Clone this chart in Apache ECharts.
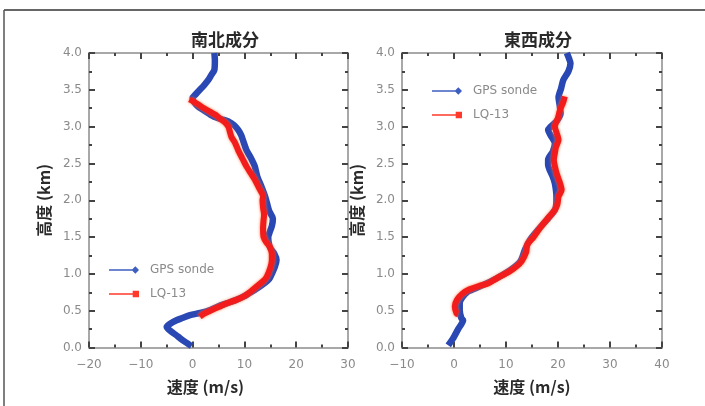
<!DOCTYPE html>
<html><head><meta charset="utf-8">
<script src="https://cdn.jsdelivr.net/npm/echarts@6/dist/echarts.min.js"></script>
<style>html,body{margin:0;padding:0;background:#fff}#c{width:705px;height:406px}</style>
</head><body><div id="c"></div>
<script>
// ---- data: [speed (m/s), height (km)] ----
const titles = ['南北成分', '東西成分'];
const seriesNames = ['GPS sonde', 'LQ-13'];
const xRanges = [[-20, 30], [-10, 40]];
const yRange = [0, 4];

const nsGps = [[4.2,4.0],[4.3,3.9],[4.2,3.77],[3.6,3.7],[3.0,3.63],[2.2,3.56],[1.4,3.5],[0.6,3.44],[0.0,3.39],[0.3,3.33],[1.1,3.27],[2.2,3.22],[4.0,3.14],[5.6,3.1],[6.9,3.07],[8.0,3.02],[8.8,2.955],[9.4,2.88],[9.8,2.8],[10.4,2.68],[11.2,2.58],[12.0,2.46],[12.5,2.32],[13.2,2.2],[14.0,2.05],[14.4,1.95],[14.8,1.85],[15.5,1.75],[15.3,1.65],[14.8,1.55],[14.6,1.5],[14.7,1.42],[15.0,1.35],[15.8,1.27],[16.2,1.19],[15.9,1.1],[15.3,1.0],[14.8,0.93],[13.8,0.87],[12.4,0.8],[11.0,0.74],[9.8,0.69],[8.2,0.64],[6.6,0.6],[5.0,0.56],[3.4,0.51],[1.5,0.47],[-0.5,0.44],[-2.0,0.4],[-3.1,0.37],[-4.4,0.32],[-5.0,0.28],[-4.2,0.22],[-3.2,0.17],[-2.4,0.125],[-1.3,0.07],[-0.2,0.02]];
const nsLq = [[-0.6,3.37],[0.2,3.34],[1.1,3.3],[2.2,3.25],[3.4,3.2],[4.4,3.16],[5.3,3.11],[6.2,3.06],[6.9,3.0],[7.2,2.93],[7.5,2.86],[8.2,2.78],[8.8,2.68],[9.6,2.57],[10.4,2.46],[11.2,2.37],[12.0,2.28],[12.8,2.17],[13.6,2.05],[13.5,2.0],[13.6,1.9],[13.8,1.8],[13.7,1.73],[13.6,1.62],[13.7,1.5],[14.3,1.42],[14.9,1.37],[15.3,1.27],[15.3,1.19],[15.0,1.08],[14.3,0.96],[13.6,0.9],[12.4,0.83],[11.2,0.76],[9.8,0.69],[8.2,0.64],[6.6,0.6],[5.0,0.55],[3.4,0.5],[2.2,0.46],[1.4,0.42]];
const ewGps = [[21.7,4.0],[22.1,3.93],[22.4,3.86],[22.0,3.75],[21.0,3.63],[20.6,3.52],[20.1,3.4],[20.3,3.3],[20.5,3.18],[19.8,3.08],[18.6,3.0],[18.1,2.955],[18.6,2.88],[19.4,2.77],[19.0,2.66],[18.1,2.55],[18.1,2.48],[18.4,2.41],[19.0,2.32],[19.4,2.23],[19.7,2.05],[19.7,2.0],[19.4,1.87],[17.8,1.73],[16.2,1.6],[14.6,1.46],[13.6,1.32],[13.0,1.2],[12.4,1.14],[10.8,1.05],[8.2,0.94],[5.0,0.83],[2.7,0.76],[1.6,0.68],[1.1,0.6],[1.1,0.51],[1.4,0.4],[1.75,0.37],[0.8,0.25],[-0.2,0.12],[-0.8,0.06],[-1.1,0.03]];
const ewLq = [[21.3,3.41],[21.0,3.33],[20.4,3.23],[20.0,3.12],[19.4,3.0],[19.8,2.9],[20.1,2.82],[19.6,2.72],[19.4,2.64],[19.2,2.55],[19.4,2.46],[19.8,2.35],[20.4,2.23],[20.7,2.14],[20.1,2.05],[19.9,1.95],[19.4,1.87],[18.0,1.75],[16.5,1.62],[15.3,1.5],[14.1,1.4],[13.9,1.3],[13.0,1.17],[12.0,1.1],[10.6,1.03],[8.2,0.94],[6.5,0.87],[5.0,0.84],[3.0,0.79],[1.6,0.73],[0.6,0.65],[0.15,0.56],[0.5,0.46],[0.8,0.45]];

// ---- styling ----
const BLUE = '#2a48b4', RED = '#f21c1c';
const LABEL_COLOR = '#8a8a8a', AXIS_COLOR = '#a8a8a8', TICK_COLOR = '#444';
const FONT = 'DejaVu Sans';
const grids = [
  {left: 89, right: 357, top: 53, bottom: 58.5},
  {left: 402, right: 43, top: 53, bottom: 58.5}
];
const fmtX = v => (v < 0 ? '\u2212' + Math.abs(v) : String(v));
const fmtY = v => v.toFixed(1);

function xAxisFor(g, pos) {
  const main = pos === 'bottom';
  return {
    type: 'value', gridIndex: g, position: pos,
    min: xRanges[g][0], max: xRanges[g][1], interval: 10,
    axisLine: {show: true, onZero: false, lineStyle: {color: AXIS_COLOR, width: 2}},
    axisTick: {show: true, inside: true, length: 6, lineStyle: {color: TICK_COLOR, width: 2}},
    minorTick: {show: true, splitNumber: 2, length: 3, lineStyle: {color: TICK_COLOR, width: 2}},
    splitLine: {show: false},
    axisLabel: {show: main, formatter: fmtX, color: LABEL_COLOR, fontFamily: FONT, fontSize: 12, margin: 11},
    name: main ? '速度 (m/s)' : '', nameLocation: 'middle', nameGap: 31,
    nameTextStyle: {fontFamily: 'Noto Sans CJK JP', fontWeight: 'bold', fontSize: 16, color: '#2a2a2a',
      padding: g === 0 ? [0, 26, 0, 0] : [0, 0, 0, 0]}
  };
}
function yAxisFor(g, pos) {
  const main = pos === 'left';
  return {
    type: 'value', gridIndex: g, position: pos,
    min: yRange[0], max: yRange[1], interval: 0.5,
    axisLine: {show: true, onZero: false, lineStyle: {color: AXIS_COLOR, width: 2}},
    axisTick: {show: true, inside: true, length: 6, lineStyle: {color: TICK_COLOR, width: 2}},
    minorTick: {show: true, splitNumber: 2, length: 3, lineStyle: {color: TICK_COLOR, width: 2}},
    splitLine: {show: false},
    axisLabel: {show: main, formatter: fmtY, color: LABEL_COLOR, fontFamily: FONT, fontSize: 12, margin: 7},
    name: main ? '高度 (km)' : '', nameLocation: 'middle', nameGap: 37, nameRotate: 90,
    nameTextStyle: {fontFamily: 'Noto Sans CJK JP', fontWeight: 'bold', fontSize: 16, color: '#2a2a2a'}
  };
}

const gpsIcon = 'path://M0,4.2 L24,4.2 L24,5.8 L0,5.8 Z M25,1.5 L28.5,5 L25,8.5 L21.5,5 Z';
const lqIcon = 'path://M0,4.2 L23,4.2 L23,5.8 L0,5.8 Z M22.5,2 L28.5,2 L28.5,8 L22.5,8 Z';

function lineSeries(name, data, g, color, glow) {
  return {
    type: 'line', name: name, data: data, xAxisIndex: g, yAxisIndex: g,
    symbol: 'none', smooth: 0.25, z: glow ? 3 : 2,
    lineStyle: glow
      ? {color: color, width: 6, shadowBlur: 3, shadowColor: 'rgba(255,110,50,0.9)'}
      : {color: color, width: 6.5},
    itemStyle: {color: color},
    animation: false
  };
}

const option = {
  backgroundColor: '#fff',
  animation: false,
  title: [
    {text: titles[0], left: 220, top: 26, textAlign: 'center',
     textStyle: {fontFamily: 'Noto Sans CJK JP', fontWeight: 'bold', fontSize: 17, color: '#2a2a2a'}},
    {text: titles[1], left: 533, top: 26, textAlign: 'center',
     textStyle: {fontFamily: 'Noto Sans CJK JP', fontWeight: 'bold', fontSize: 17, color: '#2a2a2a'}}
  ],
  grid: grids,
  xAxis: [xAxisFor(0, 'bottom'), xAxisFor(1, 'bottom'), xAxisFor(0, 'top'), xAxisFor(1, 'top')],
  yAxis: [yAxisFor(0, 'left'), yAxisFor(1, 'left'), yAxisFor(0, 'right'), yAxisFor(1, 'right')],
  legend: [
    {left: 104, top: 259, orient: 'vertical', itemGap: 12, itemWidth: 30, itemHeight: 10,
     textStyle: {color: LABEL_COLOR, fontFamily: FONT, fontSize: 12, padding: [0, 0, 0, 6]},
     data: [{name: seriesNames[0], icon: gpsIcon, itemStyle: {color: '#3f5fc0'}},
            {name: seriesNames[1], icon: lqIcon, itemStyle: {color: '#ff3a2a'}}]},
    {left: 427, top: 80, orient: 'vertical', itemGap: 12, itemWidth: 30, itemHeight: 10,
     textStyle: {color: LABEL_COLOR, fontFamily: FONT, fontSize: 12, padding: [0, 0, 0, 6]},
     data: [{name: seriesNames[0], icon: gpsIcon, itemStyle: {color: '#3f5fc0'}},
            {name: seriesNames[1], icon: lqIcon, itemStyle: {color: '#ff3a2a'}}]}
  ],
  series: [
    lineSeries(seriesNames[0], nsGps, 0, BLUE, false),
    lineSeries(seriesNames[1], nsLq, 0, RED, true),
    lineSeries(seriesNames[0], ewGps, 1, BLUE, false),
    lineSeries(seriesNames[1], ewLq, 1, RED, true)
  ],
  graphic: [
    {type: 'line', shape: {x1: 4, y1: 10, x2: 705, y2: 10}, style: {stroke: '#333', lineWidth: 1.5}, silent: true},
    {type: 'line', shape: {x1: 4, y1: 10, x2: 4, y2: 406}, style: {stroke: '#555', lineWidth: 1.5}, silent: true}
  ]
};

const chart = echarts.init(document.getElementById('c'), null, {renderer: 'canvas'});
chart.setOption(option);
</script>
</body></html>
